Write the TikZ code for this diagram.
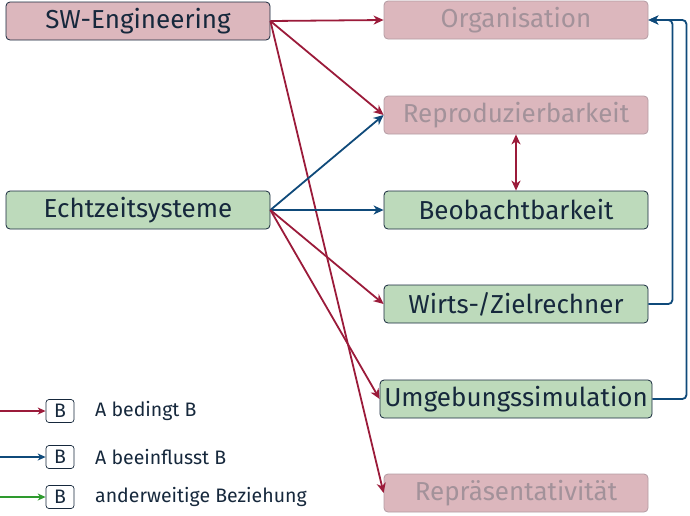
\documentclass[tikz,border=0pt]{standalone}
\usepackage{fontspec}
\setmainfont{Fira Sans}
\usetikzlibrary{arrows.meta}
\definecolor{cred}{HTML}{9B1B3A}
\definecolor{cblue}{HTML}{0F4A7A}
\definecolor{cgreen}{HTML}{2E9A2E}
\definecolor{ctext}{HTML}{16283C}
\definecolor{pinkf}{HTML}{DCB7BD}
\definecolor{greenf}{HTML}{BDDABB}
\definecolor{fadetext}{HTML}{A3929A}
\definecolor{fadeborder}{HTML}{B49CA3}
\tikzset{
  box/.style={draw=ctext, rounded corners=4pt, minimum width=264pt, minimum height=38pt,
    inner sep=0pt, font=\fontsize{26}{30}\selectfont, text=ctext, line width=0.8pt},
  sbox/.style={box, fill=pinkf},
  gbox/.style={box, fill=greenf},
  fbox/.style={box, fill=pinkf, draw=fadeborder, text=fadetext},
  ra/.style={draw=cred, line width=1.8pt, -{Stealth[length=10pt,width=9pt,inset=3pt]}},
  ba/.style={draw=cblue, line width=1.8pt, -{Stealth[length=10pt,width=9pt,inset=3pt]}},
  lbox/.style={draw=ctext, rounded corners=3pt, minimum width=28pt, minimum height=23pt,
    inner sep=0pt, font=\fontsize{19.5}{22}\selectfont, text=ctext, line width=0.7pt},
  ltext/.style={anchor=west, inner sep=0pt, font=\fontsize{19.5}{22}\selectfont, text=ctext},
  la/.style={line width=1.3pt, -{Stealth[length=8pt,width=7pt,inset=2.5pt]}}
}
\begin{document}
\begin{tikzpicture}[x=1pt,y=-1pt]
\useasboundingbox (0,0) rectangle (690,515);
\node[sbox] (sw) at (138,21) {SW-Engineering};
\node[gbox] (ez) at (138,210) {Echtzeitsysteme};
\node[fbox] (org) at (516,20) {Organisation};
\node[fbox] (rep) at (516,115) {Reproduzierbarkeit};
\node[gbox] (beo) at (516,210) {Beobachtbarkeit};
\node[gbox] (wz) at (516,304) {Wirts-/Zielrechner};
\node[gbox, minimum width=272pt] (umg) at (516,399) {Umgebungssimulation};
\node[fbox] (rpt) at (516,493) {Repräsentativität};

\draw[ra] (sw.east) -- (org.west);
\draw[ra] (sw.east) -- (rep.west);
\draw[ra] (sw.east) -- (rpt.west);
\draw[ba] (ez.east) -- (rep.west);
\draw[ba] (ez.east) -- (beo.west);
\draw[ra] (ez.east) -- (wz.west);
\draw[ra] (ez.east) -- (umg.west);
\draw[ra, {Stealth[length=10pt,width=9pt,inset=3pt]}-{Stealth[length=10pt,width=9pt,inset=3pt]}] (rep.south) -- (beo.north);
\draw[ba, rounded corners=4pt] (wz.east) -- ++(24,0) |- (org.east);
\draw[ba, rounded corners=4pt] (umg.east) -- ++(34,0) |- (org.east);

\node[lbox] (b1) at (60,411) {B};
\node[lbox] (b2) at (60,457) {B};
\node[lbox] (b3) at (60,497) {B};
\coordinate (l1) at (0,411);
\coordinate (l2) at (0,457);
\coordinate (l3) at (0,497);
\draw[la, draw=cred] (l1) -- (b1.west);
\draw[la, draw=cblue] (l2) -- (b2.west);
\draw[la, draw=cgreen] (l3) -- (b3.west);
\node[ltext] (t1) at (95,411) {A bedingt B};
\node[ltext] (t2) at (95,457) {A beeinflusst B};
\node[ltext] (t3) at (95,497) {anderweitige Beziehung};
\end{tikzpicture}
\end{document}
